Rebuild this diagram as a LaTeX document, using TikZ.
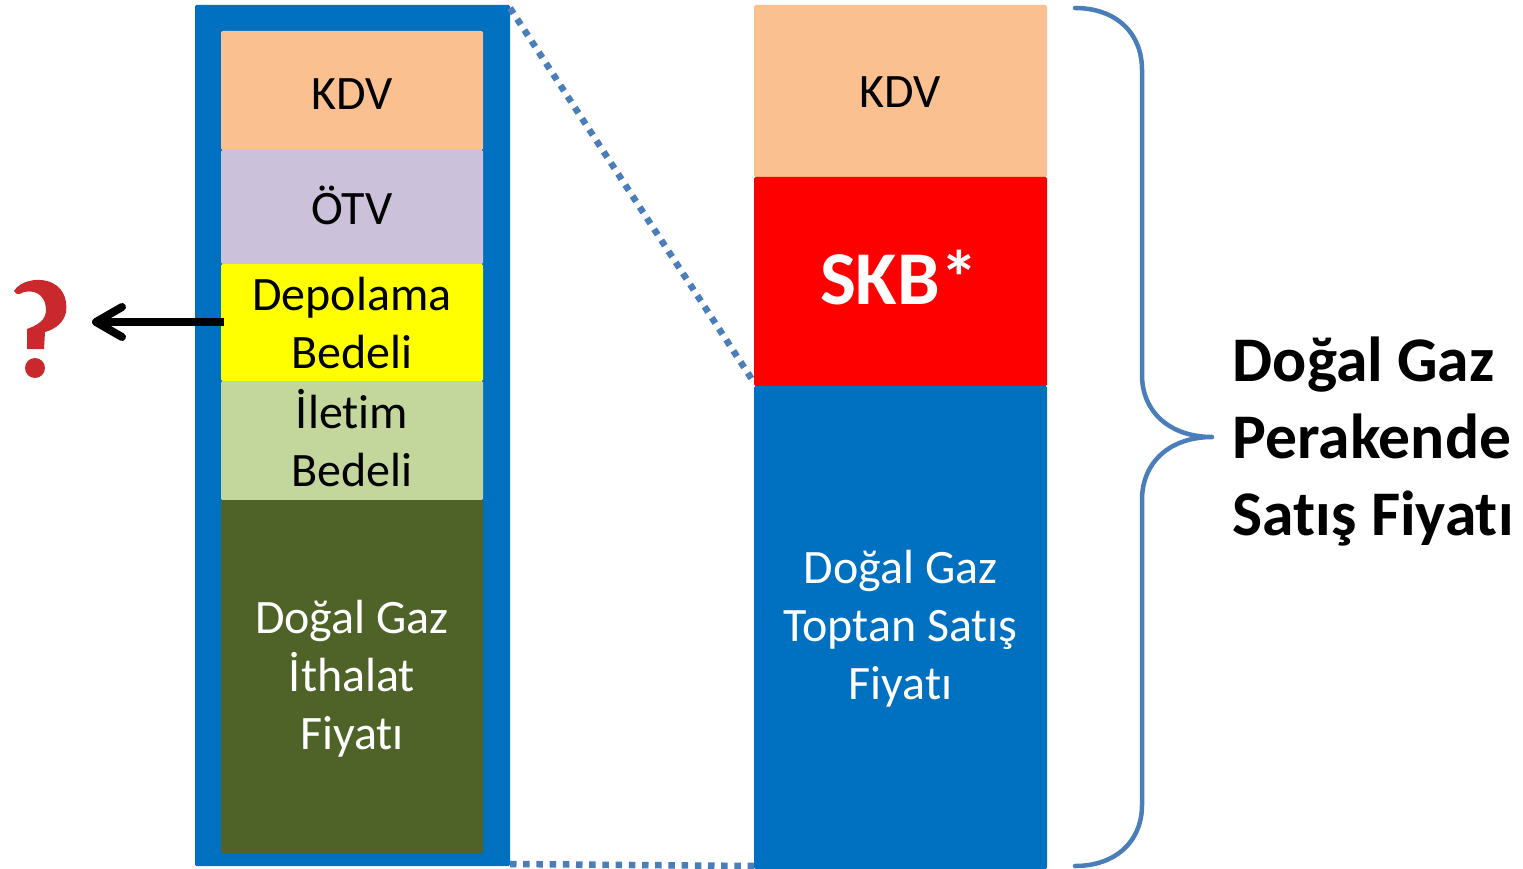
\documentclass[tikz,border=0pt]{standalone}
\usepackage{fontspec}
\setmainfont[RawFeature={-liga}]{Carlito}
\usetikzlibrary{arrows.meta}
\definecolor{cblue}{HTML}{0070C0}
\definecolor{corange}{HTML}{FAC090}
\definecolor{cpurple}{HTML}{CCC1DA}
\definecolor{cgreen}{HTML}{C3D69B}
\definecolor{colive}{HTML}{4F6228}
\definecolor{cline}{HTML}{4A7EBB}
\definecolor{cqmark}{HTML}{C9282D}
\definecolor{cyellow}{HTML}{FFFF00}
\definecolor{cred}{HTML}{FF0000}
\tikzset{
  x=1pt,y=-1pt,
  bar/.style={rectangle,inner sep=0pt,outer sep=0pt,rounded corners=1.5pt},
  lbar/.style={bar,minimum width=262pt},
  rbar/.style={bar,minimum width=293pt},
  barlabel/.style={inner sep=0pt,align=center,font=\fontsize{48}{58}\selectfont},
  dots/.style={draw=cline,line width=6.5pt,dash pattern=on 6.5pt off 6.7pt},
  brace/.style={draw=cline,line width=4.5pt,line cap=round,line join=round},
  pointer/.style={line width=8pt,-{Straight Barb[length=26pt,width=30pt,line width=8pt,round]}}
}
\begin{document}
\begin{tikzpicture}
\useasboundingbox (0,0) rectangle (1523,869);
\fill[white] (0,0) rectangle (1523,869);
\node[bar,fill=cblue,minimum width=315pt,minimum height=861pt] (outer) at (352.5,435.5) {};
\node[lbar,fill=corange,minimum height=119pt] (kdvl) at (352,90.5) {};
\node[lbar,fill=cpurple,minimum height=114pt] (otv) at (352,207) {};
\node[lbar,fill=cyellow,minimum height=117pt] (depo) at (352,322.5) {};
\node[lbar,fill=cgreen,minimum height=119pt] (ilet) at (352,440.5) {};
\node[lbar,fill=colive,minimum height=353pt] (ith) at (352,676.5) {};
\node[rbar,fill=corange,minimum height=172pt] (kdvr) at (900.5,91) {};
\node[rbar,fill=cred,minimum height=209pt] (skb) at (900.5,281.5) {};
\node[rbar,fill=cblue,minimum height=483pt] (top) at (900.5,627.5) {};
\node[barlabel] (tkdvl) at (352,94.5) {KDV};
\node[barlabel] (totv) at (352,205) {ÖTV};
\node[barlabel] (tdepo) at (352,322.5) {Depolama\\Bedeli};
\node[barlabel] (tilet) at (352,438.5) {İletim\\Bedeli};
\node[barlabel,text=white] (tith) at (352,679) {Doğal Gaz\\İthalat\\Fiyatı};
\node[barlabel] (tkdvr) at (900.5,92) {KDV};
\node[barlabel,text=white,font=\fontsize{76}{80}\selectfont\bfseries] (tskb) at (899,278) {SKB*};
\node[barlabel,text=white] (ttop) at (900.5,629) {Doğal Gaz\\Toptan Satış\\Fiyatı};
\node[anchor=west,inner sep=0pt,align=left,font=\fontsize{63.6}{77}\selectfont\bfseries] (total) at (1232.5,442) {Doğal Gaz\\Perakende\\Satış Fiyatı};
\coordinate (otr) at (510,8);
\coordinate (obr) at (510,864);
\coordinate (rbl) at (754,866);
\coordinate (skbend) at (753,381);
\draw[dots] (otr) -- (skbend);
\draw[dots] (obr) -- (rbl);
\coordinate (qtip) at (92,322);
\draw[pointer] (224,322) -- (qtip);
\draw[brace] (1075,8) .. controls (1115,8) and (1142,32) .. (1142,70) -- (1142,375)
  .. controls (1142,412) and (1170,437) .. (1212,437)
  .. controls (1170,437) and (1142,462) .. (1142,500) -- (1142,805)
  .. controls (1142,842) and (1115,866) .. (1075,866);
\fill[cqmark] (14,291) .. controls (20,281) and (36,278) .. (47,281)
  .. controls (62,285) and (68,298) .. (66,312)
  .. controls (64,322) and (56,329) .. (45,332)
  -- (44,349) -- (27,349) -- (27,329)
  .. controls (38,325) and (46,320) .. (46,310)
  .. controls (46,298) and (38,289) .. (24,292)
  .. controls (20,294) and (17,296) .. (14,291) -- cycle;
\fill[cqmark] (35,368) circle (10);
\end{tikzpicture}
\end{document}
